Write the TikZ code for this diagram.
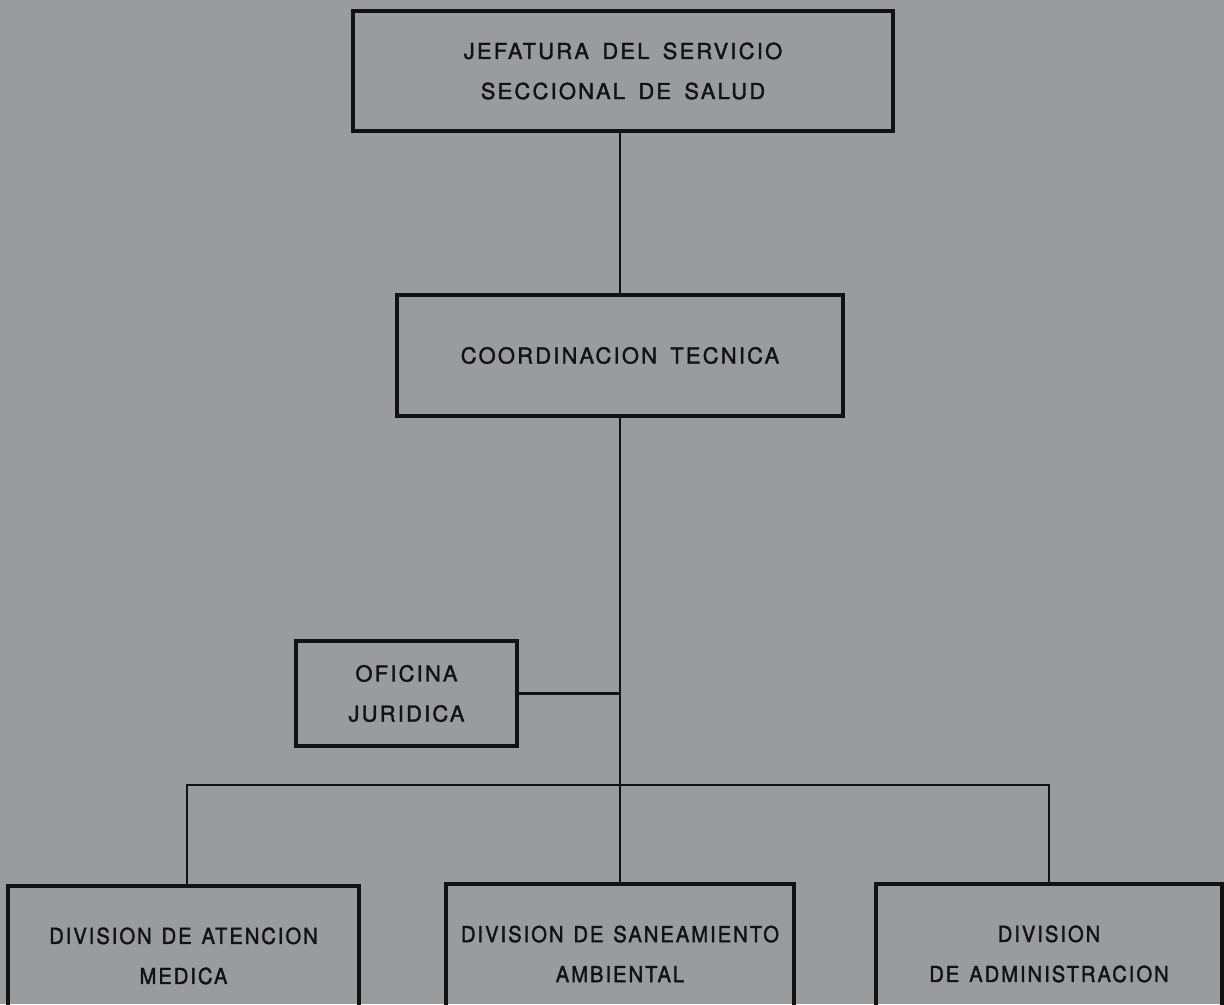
\documentclass[tikz,border=0pt]{standalone}
\usepackage{fontspec}
\setmainfont{TeX Gyre Heros}
\newfontfamily\orgfont[LetterSpace=10,WordSpace=1.6,FakeBold=1.6]{TeX Gyre Heros}
\newfontfamily\divfont[LetterSpace=9,FakeStretch=0.92,WordSpace=1.3,FakeBold=1.6]{TeX Gyre Heros}
\usepackage{tikz}
\usetikzlibrary{positioning,calc}
\definecolor{paperbg}{RGB}{153,155,157}
\definecolor{inkline}{RGB}{18,18,18}

\begin{document}
\begin{tikzpicture}[
    unit/.style={rectangle, draw=inkline, line width=2.2pt, align=center, inner sep=0pt,
                 font=\orgfont\fontsize{12.5}{22.8}\selectfont, text=inkline},
    division/.style={unit, anchor=north, minimum height=2.8cm,
                     font=\divfont\fontsize{12.5}{22.8}\selectfont},
    link/.style={draw=inkline, line width=1.2pt}
]
% page and background
\fill[paperbg] (0,0) rectangle (24.48,20.08);
\useasboundingbox (0,0) rectangle (24.48,20.08);

% Level 1 - head office
\node[unit, minimum width=10.8cm, minimum height=2.4cm] (jefatura) at (12.46,18.66)
    {JEFATURA DEL SERVICIO\\SECCIONAL DE SALUD};

% Level 2
\node[unit, minimum width=8.92cm, minimum height=2.42cm] (coordinacion) at (12.40,12.97)
    {COORDINACION TECNICA};

% Staff office on the side
\node[unit, minimum width=4.42cm, minimum height=2.1cm] (oficina) at (8.13,6.21)
    {OFICINA\\JURIDICA};

% Level 3 - divisions (cut off at the bottom edge)
\node[division, minimum width=7.02cm] (atencion) at (3.67,2.40)
    {DIVISION DE ATENCION\\MEDICA};
\node[division, minimum width=6.96cm] (saneamiento) at (12.40,2.44)
    {DIVISION DE SANEAMIENTO\\AMBIENTAL};
\node[division, minimum width=6.92cm] (administracion) at (20.98,2.44)
    {DIVISION\\DE ADMINISTRACION};

\coordinate (bus) at (12.40,4.38);

% Connectors
\draw[link] (coordinacion.north) -- (coordinacion.north |- jefatura.south);
\draw[link] (coordinacion.south) -- (saneamiento.north);
\draw[link] (oficina.east) -- (oficina.east -| coordinacion.south);
\draw[link] ([xshift=0.07cm]atencion.north) |- (bus) -| (administracion.north);

\end{tikzpicture}
\end{document}
